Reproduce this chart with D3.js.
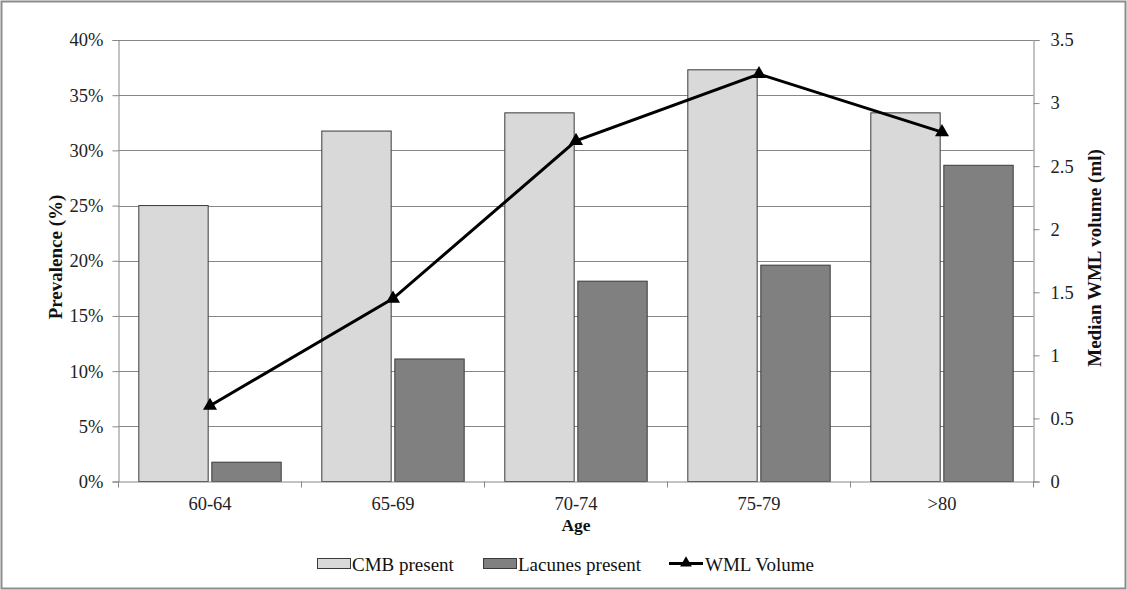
<!DOCTYPE html>
<html><head><meta charset="utf-8">
<script src="https://cdn.jsdelivr.net/npm/d3@7"></script>
<style>
html,body{margin:0;padding:0;background:#fff;}
svg, svg text{font-family:"Liberation Serif","Times New Roman",serif !important;}
</style></head>
<body>
<svg id="chart" width="1127" height="590"></svg>
<script>
const categories = ["60-64","65-69","70-74","75-79",">80"];
const cmbPresent = [25.0, 31.75, 33.4, 37.3, 33.4];
const lacunesPresent = [1.75, 11.1, 18.15, 19.6, 28.65];
const wmlVolume = [0.60, 1.45, 2.70, 3.23, 2.77];
const leftTicks = [0,5,10,15,20,25,30,35,40];
const rightTicks = [0,0.5,1,1.5,2,2.5,3,3.5];
const seriesNames = ["CMB present","Lacunes present","WML Volume"];

const svg = d3.select("#chart");
const L = 118.5, R = 1033.5, T = 40, B = 481.5;
const FF = '"Liberation Serif","Times New Roman",serif';

// outer frame
svg.append("rect").attr("x",1.5).attr("y",1.5).attr("width",1124).attr("height",587)
  .attr("fill","#fff").attr("stroke","#8c8c8c").attr("stroke-width",2);

const x0 = d3.scaleBand().domain(categories).range([L,R]).paddingInner(0.222).paddingOuter(0.111);
const x1 = d3.scaleBand().domain(["cmb","lac"]).range([0,x0.bandwidth()]).paddingInner(0.05);
const xCat = d3.scaleBand().domain(categories).range([L,R]);
const yL = d3.scaleLinear().domain([0,40]).range([B,T]);
const yR = d3.scaleLinear().domain([0,3.5]).range([B,T]);

// gridlines
svg.append("g").selectAll("line").data(leftTicks.filter(d=>d>0)).join("line")
  .attr("x1",L).attr("x2",R).attr("y1",d=>Math.round(yL(d))+0.5).attr("y2",d=>Math.round(yL(d))+0.5)
  .attr("stroke","#868686").attr("stroke-width",1);

// bars
const groups = svg.append("g").selectAll("g").data(categories).join("g")
  .attr("transform",d=>`translate(${x0(d)},0)`);
groups.append("rect")
  .attr("x",x1("cmb")).attr("width",x1.bandwidth())
  .attr("y",(d,i)=>yL(cmbPresent[i])).attr("height",(d,i)=>B-yL(cmbPresent[i]))
  .attr("fill","#d9d9d9").attr("stroke","#3a3a3a").attr("stroke-width",1);
groups.append("rect")
  .attr("x",x1("lac")).attr("width",x1.bandwidth())
  .attr("y",(d,i)=>yL(lacunesPresent[i])).attr("height",(d,i)=>B-yL(lacunesPresent[i]))
  .attr("fill","#808080").attr("stroke","#3a3a3a").attr("stroke-width",1);

// axes
const fs = "18.5px";
const axL = svg.append("g").attr("transform",`translate(${L},0)`)
  .call(d3.axisLeft(yL).tickValues(leftTicks).tickFormat(d=>d+"%").tickSize(6).tickPadding(9));
const axR = svg.append("g").attr("transform",`translate(${R},0)`)
  .call(d3.axisRight(yR).tickValues(rightTicks).tickFormat(d=>String(d)).tickSize(6).tickPadding(11));
const axB = svg.append("g").attr("transform",`translate(0,${B})`)
  .call(d3.axisBottom(xCat).tickSize(0).tickPadding(15));
// category boundary ticks
svg.append("g").selectAll("line").data(categories.concat(["end"])).join("line")
  .attr("x1",(d,i)=>L+i*xCat.step()).attr("x2",(d,i)=>L+i*xCat.step())
  .attr("y1",B).attr("y2",B+6).attr("stroke","#868686");
[axL,axR,axB].forEach(a=>{
  a.attr("font-family",FF);
  a.selectAll("path").attr("stroke","#868686").attr("stroke-width",1);
  a.selectAll("line").attr("stroke","#868686");
  a.selectAll("text").attr("font-family",FF).attr("font-size",fs).attr("fill","#222");
});
axB.select(".domain").attr("d",`M${L},0.5H${R}`);

// line + markers
const pts = categories.map((c,i)=>[xCat(c)+xCat.bandwidth()/2, yR(wmlVolume[i])]);
svg.append("path").datum(pts).attr("d",d3.line()).attr("fill","none")
  .attr("stroke","#000").attr("stroke-width",3);
svg.append("g").selectAll("path").data(pts).join("path")
  .attr("transform",d=>`translate(${d[0]},${d[1]})`)
  .attr("d",d3.symbol(d3.symbolTriangle,85)).attr("fill","#000");

// axis titles
svg.append("text").attr("x",(L+R)/2).attr("y",531).attr("text-anchor","middle").attr("font-family",FF)
  .attr("font-weight","bold").attr("font-size","17.5px").attr("fill","#111").text("Age");
svg.append("text").attr("transform",`translate(62,257) rotate(-90)`).attr("text-anchor","middle").attr("font-family",FF)
  .attr("font-weight","bold").attr("font-size","19px").attr("fill","#111").text("Prevalence (%)");
svg.append("text").attr("transform",`translate(1101,258) rotate(-90)`).attr("text-anchor","middle").attr("font-family",FF)
  .attr("font-weight","bold").attr("font-size","19px").attr("fill","#111").text("Median WML volume (ml)");

// legend
const lg = svg.append("g").attr("font-size","19px").attr("font-family",FF).attr("fill","#111");
lg.append("rect").attr("x",317.5).attr("y",558.5).attr("width",33).attr("height",10)
  .attr("fill","#d9d9d9").attr("stroke","#3a3a3a");
lg.append("text").attr("x",352).attr("y",571).text(seriesNames[0]);
lg.append("rect").attr("x",483.5).attr("y",558.5).attr("width",33).attr("height",10)
  .attr("fill","#808080").attr("stroke","#3a3a3a");
lg.append("text").attr("x",518).attr("y",571).text(seriesNames[1]);
lg.append("line").attr("x1",669).attr("x2",703).attr("y1",563.5).attr("y2",563.5)
  .attr("stroke","#000").attr("stroke-width",3);
lg.append("path").attr("transform","translate(686,563)").attr("d",d3.symbol(d3.symbolTriangle,60)).attr("fill","#000");
lg.append("text").attr("x",705).attr("y",571).text(seriesNames[2]);
</script>
</body></html>
